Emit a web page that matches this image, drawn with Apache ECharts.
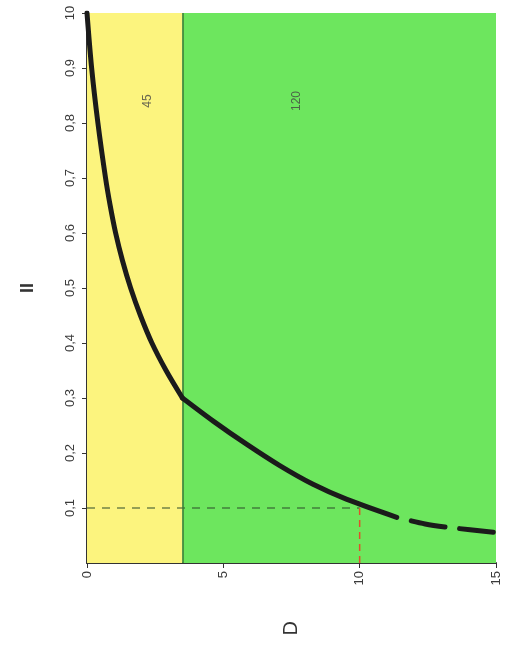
<!DOCTYPE html>
<html>
<head>
<meta charset="utf-8">
<script src="https://cdn.jsdelivr.net/npm/echarts@6/dist/echarts.min.js"></script>
<style>
  html, body { margin: 0; padding: 0; background: #fff; }
  #chart { width: 510px; height: 655px; }
</style>
</head>
<body>
<div id="chart"></div>
<script>
// 曲线数据：黄色区段、绿色区段（实线）、虚线延伸部分
const upperD = [0, 0.17, 0.4, 0.68, 0.85, 1.05, 1.3, 1.6, 1.96, 2.38, 2.9, 3.5]
const upperV = [1.0, 0.9, 0.8, 0.7, 0.65, 0.6, 0.55, 0.5, 0.45, 0.4, 0.35, 0.3]
const lowerD = [3.5, 4.63, 5.85, 7.07, 8.29, 9.51, 11.36]
const lowerV = [0.3, 0.258, 0.216, 0.177, 0.143, 0.116, 0.083]
const tailD = [11.36, 12.4, 13.4, 14.9]
const tailV = [0.083, 0.071, 0.064, 0.056]

// 区域分界与标注
const zoneBreak = 3.5
const zoneLabels = ['45', '120']
const zoneLabelD = [2.23, 7.7]
const zoneLabelV = [0.84, 0.84]

// 参考线
const refD = 10
const refV = 0.1

// 坐标轴
const xTicks = [0, 5, 10, 15]
const yTickLabels = { 0.1: '0,1', 0.2: '0,2', 0.3: '0,3', 0.4: '0,4', 0.5: '0,5',
  0.6: '0,6', 0.7: '0,7', 0.8: '0,8', 0.9: '0,9', 1: '10' }

const chart = echarts.init(document.getElementById('chart'))

const zip = (xs, ys) => xs.map((x, i) => [x, ys[i]])
const textColor = '#3a3a3a'
const curveStyle = { color: '#1b1b1b', width: 5, cap: 'round', join: 'round' }

chart.setOption({
  animation: false,
  grid: { left: 87, right: 14, top: 13, bottom: 92 },
  xAxis: {
    type: 'value',
    min: 0,
    max: 15,
    interval: 5,
    name: 'D',
    nameLocation: 'middle',
    nameGap: 58,
    nameRotate: 90,
    nameTextStyle: { fontSize: 20, color: '#333', fontFamily: 'Liberation Sans' },
    axisLine: { lineStyle: { color: '#333', width: 2 } },
    axisTick: { show: true, length: 5, lineStyle: { color: '#333' } },
    axisLabel: {
      rotate: 90,
      fontSize: 13,
      color: textColor,
      fontFamily: 'Liberation Sans',
      margin: 8,
      formatter: v => (xTicks.includes(v) ? String(v) : '')
    },
    splitLine: { show: false }
  },
  yAxis: {
    type: 'value',
    min: 0,
    max: 1,
    interval: 0.1,
    name: 'II',
    nameLocation: 'middle',
    nameGap: 50,
    nameRotate: 90,
    nameTextStyle: { fontSize: 18, color: '#333', fontFamily: 'Liberation Sans', fontWeight: 'bold' },
    axisLine: { show: true, lineStyle: { color: '#333', width: 2 } },
    axisTick: { show: true, length: 5, lineStyle: { color: '#333' } },
    axisLabel: {
      rotate: 90,
      fontSize: 13,
      color: textColor,
      fontFamily: 'Liberation Sans',
      margin: 10,
      showMinLabel: false,
      formatter: v => yTickLabels[Math.round(v * 10) / 10] || ''
    },
    splitLine: { show: false }
  },
  series: [
    {
      // 背景区域
      type: 'line',
      data: [],
      silent: true,
      markArea: {
        silent: true,
        data: [
          [{ xAxis: 0, itemStyle: { color: '#fcf47e' } }, { xAxis: zoneBreak }],
          [{ xAxis: zoneBreak, itemStyle: { color: '#6de65e' } }, { xAxis: 15 }]
        ]
      },
      markLine: {
        silent: true,
        symbol: 'none',
        label: { show: false },
        lineStyle: { color: '#3d7a35', width: 1.5, type: 'solid' },
        data: [{ xAxis: zoneBreak }]
      }
    },
    {
      // 区域数字
      type: 'scatter',
      symbolSize: 0,
      silent: true,
      data: zip(zoneLabelD, zoneLabelV),
      label: {
        show: true,
        position: 'inside',
        rotate: 90,
        fontSize: 12,
        color: '#444',
        fontFamily: 'Liberation Sans',
        formatter: p => zoneLabels[p.dataIndex]
      }
    },
    {
      // 0.1 水平虚线
      type: 'line',
      data: [[0, refV], [refD, refV]],
      symbol: 'none',
      silent: true,
      lineStyle: { color: '#2c4a2a', width: 1.2, type: [8, 7] }
    },
    {
      // D=10 竖直红色虚线
      type: 'line',
      data: [[refD, 0], [refD, refV]],
      symbol: 'none',
      silent: true,
      lineStyle: { color: '#e0502a', width: 1.5, type: [7, 5] }
    },
    {
      type: 'line',
      data: zip(upperD, upperV),
      smooth: 0.3,
      symbol: 'none',
      z: 5,
      lineStyle: curveStyle
    },
    {
      type: 'line',
      data: zip(lowerD, lowerV),
      smooth: 0.3,
      symbol: 'none',
      z: 5,
      lineStyle: curveStyle
    },
    {
      type: 'line',
      data: zip(tailD, tailV),
      smooth: 0.3,
      symbol: 'none',
      z: 5,
      lineStyle: Object.assign({}, curveStyle, { type: [34, 15], dashOffset: 34 })
    }
  ]
})
</script>
</body>
</html>
